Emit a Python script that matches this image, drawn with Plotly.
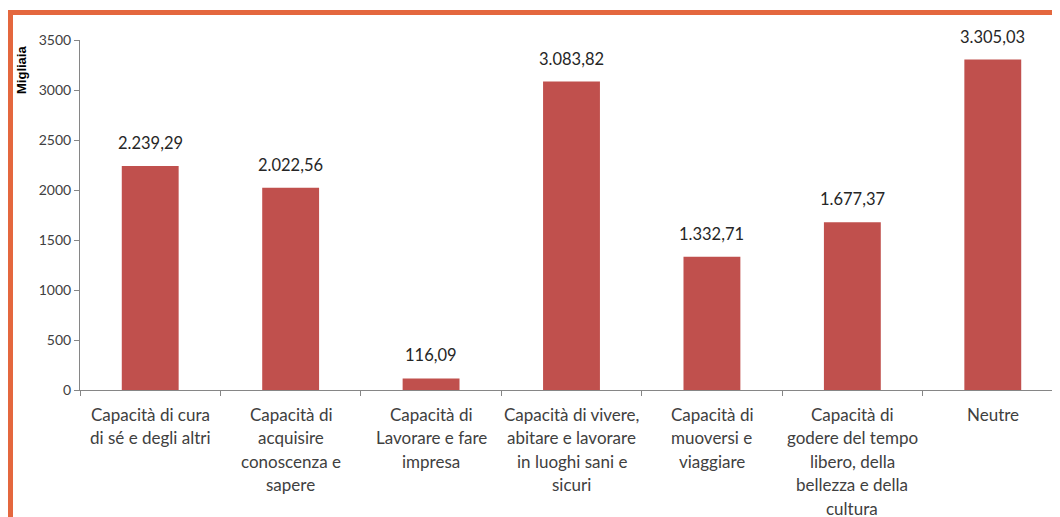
import plotly.graph_objects as go

categories = ["Cura", "Conoscenza", "Lavorare", "Vivere", "Muoversi", "Tempo libero", "Neutre"]
label_lines = [
    ["Capacità di cura", "di sé e degli altri"],
    ["Capacità di", "acquisire", "conoscenza e", "sapere"],
    ["Capacità di", "Lavorare e fare", "impresa"],
    ["Capacità di vivere,", "abitare e lavorare", "in luoghi sani e", "sicuri"],
    ["Capacità di", "muoversi e", "viaggiare"],
    ["Capacità di", "godere del tempo", "libero, della", "bellezza e della", "cultura"],
    ["Neutre"],
]
values = [2239.29, 2022.56, 116.09, 3083.82, 1332.71, 1677.37, 3305.03]
y_ticks = [0, 500, 1000, 1500, 2000, 2500, 3000, 3500]


def fmt_it(v):
    s = f"{v:,.2f}"
    return s.replace(",", "X").replace(".", ",").replace("X", ".")


FONT = "Lato"
TXT = "#404040"
L, T, PH = 72, 32, 350
PW = 983
BOT = T + PH


def px(xp):
    return (xp - L) / PW


def py(yp):
    return (BOT - yp) / PH


fig = go.Figure()
fig.add_trace(go.Bar(
    x=categories, y=values, width=0.405,
    marker=dict(color="#C0504D", line=dict(width=0)),
    hoverinfo="skip",
))

annotations = []
for c, v in zip(categories, values):
    annotations.append(dict(x=c, y=v, xref="x", yref="y", text=fmt_it(v),
                            showarrow=False, yshift=23, yanchor="middle",
                            font=dict(family=FONT, size=16.5, color="#262626")))
for c, lines in zip(categories, label_lines):
    for i, ln in enumerate(lines):
        annotations.append(dict(x=c, y=0, xref="x", yref="paper", text=ln,
                                showarrow=False, yanchor="middle",
                                yshift=-(24 + 23.5 * i),
                                font=dict(family=FONT, size=17, color=TXT)))
annotations.append(dict(x=px(13), y=py(62), xref="paper", yref="paper",
                        xanchor="center", yanchor="middle",
                        text="<b>Migliaia</b>", textangle=-90, showarrow=False,
                        font=dict(family="Liberation Sans Narrow, Liberation Sans", size=13,
                                  color="#000000")))

BORDER = "#E4673E"
shapes = [
    dict(type="rect", xref="paper", yref="paper", x0=px(-2), x1=px(1070),
         y0=py(7), y1=py(2), fillcolor=BORDER, line=dict(width=0)),
    dict(type="rect", xref="paper", yref="paper", x0=px(-2), x1=px(5),
         y0=py(530), y1=py(2), fillcolor=BORDER, line=dict(width=0)),
]

fig.update_layout(
    width=1060, height=517,
    margin=dict(l=L, r=1060 - L - PW, t=T, b=517 - BOT),
    paper_bgcolor="white", plot_bgcolor="white",
    showlegend=False,
    annotations=annotations,
    shapes=shapes,
    xaxis=dict(
        range=[-0.5, 6.5], showticklabels=False, tickson="boundaries",
        ticks="outside", ticklen=5, tickcolor="#868686", showline=True,
        linecolor="#868686", linewidth=1, showgrid=False, zeroline=False,
    ),
    yaxis=dict(
        range=[0, 3500], tickvals=y_ticks, ticks="outside", ticklen=5,
        tickcolor="#868686", showline=True, linecolor="#868686", linewidth=1,
        showgrid=False, zeroline=False,
        tickfont=dict(family=FONT, size=14, color=TXT),
    ),
)

fig.write_html("out.html")
